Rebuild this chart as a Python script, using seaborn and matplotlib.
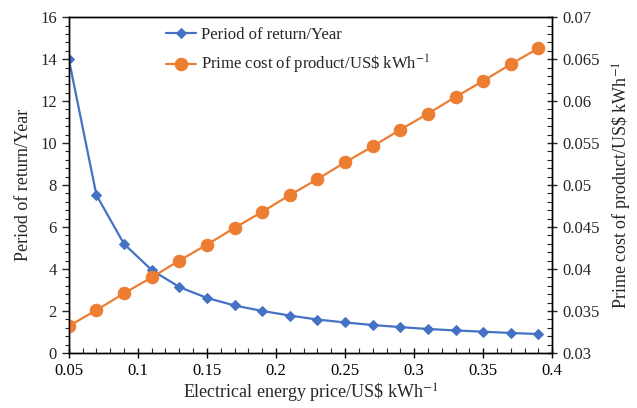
import matplotlib
matplotlib.use("Agg")
import matplotlib.pyplot as plt
import seaborn as sns
import pandas as pd
from matplotlib.ticker import MultipleLocator, FixedLocator, FuncFormatter

price = [0.05, 0.07, 0.09, 0.11, 0.13, 0.15, 0.17, 0.19, 0.21, 0.23,
         0.25, 0.27, 0.29, 0.31, 0.33, 0.35, 0.37, 0.39]
period = [14.0, 7.52, 5.19, 3.95, 3.14, 2.62, 2.26, 2.0, 1.78, 1.59,
          1.45, 1.33, 1.23, 1.14, 1.07, 1.01, 0.95, 0.90]
cost = [0.0332, 0.0351, 0.0371, 0.0390, 0.0410, 0.0429, 0.0449, 0.0468,
        0.0488, 0.0507, 0.0527, 0.0546, 0.0566, 0.0585, 0.0605, 0.0624,
        0.0644, 0.0663]

df = pd.DataFrame({"price": price, "period": period, "cost": cost})

sns.set_theme(style="ticks")
plt.rcParams["font.family"] = ["Liberation Serif", "DejaVu Serif"]
plt.rcParams["mathtext.fontset"] = "stix"

blue = "#4472C4"
orange = "#ED7D31"

fig = plt.figure(figsize=(6.37, 4.08), dpi=100)
ax = fig.add_axes([0.108, 0.135, 0.759, 0.823])
ax2 = ax.twinx()

sns.lineplot(data=df, x="price", y="period", ax=ax, color=blue, marker="D",
             markersize=5, markeredgecolor=blue, linewidth=1.6,
             label="Period of return/Year", legend=False)
sns.lineplot(data=df, x="price", y="cost", ax=ax2, color=orange, marker="o",
             markersize=9, markeredgecolor=orange, linewidth=1.6,
             label="Prime cost of product/US\\$ kWh$^{-1}$", legend=False)

ax.set_xlim(0.05, 0.4)
ax.set_ylim(0, 16)
ax2.set_ylim(0.03, 0.07)
ax.xaxis.set_major_locator(FixedLocator([0.05, 0.1, 0.15, 0.2, 0.25, 0.3, 0.35, 0.4]))
ax.xaxis.set_minor_locator(MultipleLocator(0.01))
ax.yaxis.set_major_locator(MultipleLocator(2))
ax.yaxis.set_minor_locator(MultipleLocator(0.4))
ax2.yaxis.set_major_locator(MultipleLocator(0.005))
ax2.yaxis.set_minor_locator(MultipleLocator(0.001))
fmt = FuncFormatter(lambda v, p: f"{round(v, 4):g}")
ax.xaxis.set_major_formatter(fmt)
ax2.yaxis.set_major_formatter(fmt)

ax.tick_params(axis="x", which="major", direction="inout", length=7, width=1, labelsize=12, colors="black")
ax.tick_params(axis="x", which="minor", direction="in", length=3.5, width=0.8)
ax.tick_params(axis="y", which="major", direction="out", length=5, width=1, labelsize=12)
ax.tick_params(axis="y", which="minor", direction="out", length=3, width=0.8)
ax2.tick_params(axis="y", which="major", direction="inout", length=7, width=1, labelsize=12)
ax2.tick_params(axis="y", which="minor", direction="in", length=3.5, width=0.8)

for a in (ax, ax2):
    for s in a.spines.values():
        s.set_linewidth(1)
        s.set_color("black")

ax.set_xlabel("Electrical energy price/US\\$ kWh$^{-1}$", fontsize=13, labelpad=2)
ax.set_ylabel("Period of return/Year", fontsize=13, labelpad=6)
ax2.set_ylabel("Prime cost of product/US\\$ kWh$^{-1}$", fontsize=13, labelpad=8)

h1, l1 = ax.get_legend_handles_labels()
h2, l2 = ax2.get_legend_handles_labels()
ax.legend(h1 + h2, l1 + l2, loc="upper left", bbox_to_anchor=(0.18, 1.0),
          frameon=False, fontsize=12, handlelength=1.8, handletextpad=0.3,
          labelspacing=0.6, borderaxespad=0.2)

fig.savefig("out.png", dpi=100)
